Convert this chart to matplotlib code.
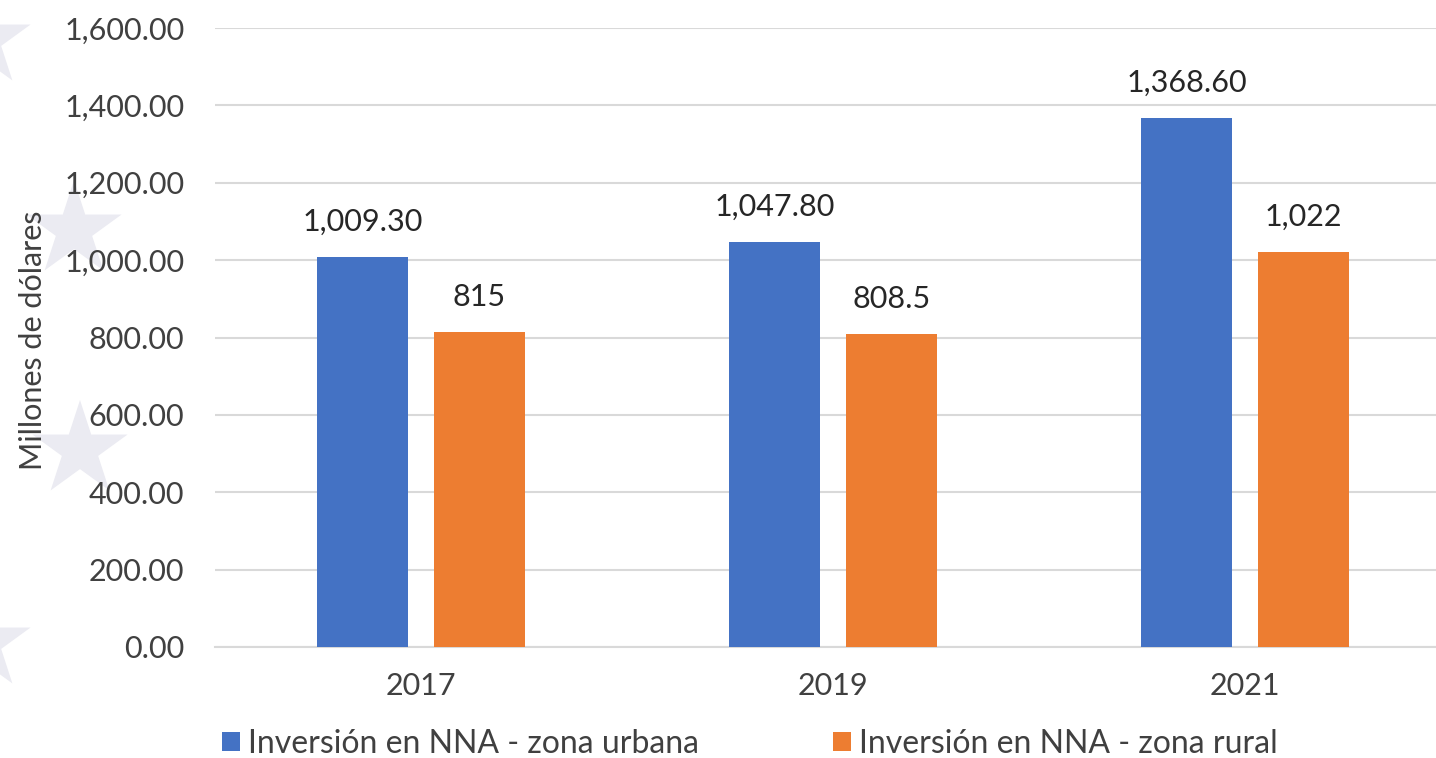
import numpy as np
import matplotlib
matplotlib.use("Agg")
import matplotlib.pyplot as plt
from matplotlib.patches import Polygon

years = ["2017", "2019", "2021"]
urbana = [1009.30, 1047.80, 1368.60]
rural = [815, 808.5, 1022]
urbana_labels = ["1,009.30", "1,047.80", "1,368.60"]
rural_labels = ["815", "808.5", "1,022"]
series_names = ["Inversión en NNA - zona urbana", "Inversión en NNA - zona rural"]
y_ticks = [0, 200, 400, 600, 800, 1000, 1200, 1400, 1600]

BLUE = "#4472c4"
ORANGE = "#ed7d31"
GRID = "#d9d9d9"
TEXT = "#404040"

plt.rcParams['font.family'] = ['Lato', 'DejaVu Sans']

W, H = 1436, 758
fig = plt.figure(figsize=(W / 100, H / 100), dpi=100)


def star_pts(cx, cy, r, inner=0.382):
    # five-point star, pixel coords with y pointing down
    angles = np.linspace(-np.pi / 2, 1.5 * np.pi, 11)[:-1]
    pts = []
    for i, a in enumerate(angles):
        rr = r if i % 2 == 0 else r * inner
        pts.append(((cx + rr * np.cos(a)) / W, 1 - (cy + rr * np.sin(a)) / H))
    return pts


# faint background stars along the left edge
for cx, cy in [(-17, 40), (74, 230), (80, 450), (-17, 643)]:
    fig.patches.append(Polygon(star_pts(cx, cy, 50), closed=True,
                               transform=fig.transFigure, facecolor="#ebebf2",
                               edgecolor="none", zorder=-1))

left, right = 215, 1451
ax = fig.add_axes([left / W, (H - 647) / H, (right - left) / W, (647 - 28) / H])
ax.patch.set_alpha(0)
ax.set_zorder(1)

x = np.arange(len(years))
bw = 0.223
off = 0.142
b1 = ax.bar(x - off, urbana, bw, color=BLUE, zorder=3, label=series_names[0])
b2 = ax.bar(x + off, rural, bw, color=ORANGE, zorder=3, label=series_names[1])

for bars, labels in [(b1, urbana_labels), (b2, rural_labels)]:
    for rect, lab in zip(bars, labels):
        ax.annotate(lab, (rect.get_x() + rect.get_width() / 2, rect.get_height()),
                    xytext=(0, 15), textcoords="offset points", ha="center",
                    va="bottom", fontsize=22, color="#262626")

ax.set_xlim(-0.5, 2.5)
ax.set_ylim(0, 1600)
ax.set_yticks(y_ticks)
ax.set_yticklabels([f"{v:,.2f}" for v in y_ticks])
ax.set_xticks(x)
ax.set_xticklabels(years)
ax.tick_params(axis="y", length=0, pad=22, labelsize=22, labelcolor=TEXT)
ax.tick_params(axis="x", length=0, pad=18, labelsize=22, labelcolor=TEXT)

ax.grid(axis="y", color=GRID, linewidth=1.5, zorder=0)
for s in ["top", "right", "left"]:
    ax.spines[s].set_visible(False)
ax.spines["bottom"].set_color(GRID)
ax.spines["bottom"].set_linewidth(1.5)

fig.text(33 / W, 1 - 340 / H, "Millones de dólares", rotation=90, ha="center",
         va="center", fontsize=22, color=TEXT)

leg = fig.legend(handles=[b1, b2], loc="center left",
                 bbox_to_anchor=(222 / W, 1 - 744 / H), ncol=2, frameon=False,
                 fontsize=23, handlelength=0.56, handleheight=0.56,
                 handletextpad=0.25, columnspacing=4.2, labelcolor=TEXT,
                 borderpad=0, borderaxespad=0)

fig.savefig("out.png", dpi=100, facecolor="white")
